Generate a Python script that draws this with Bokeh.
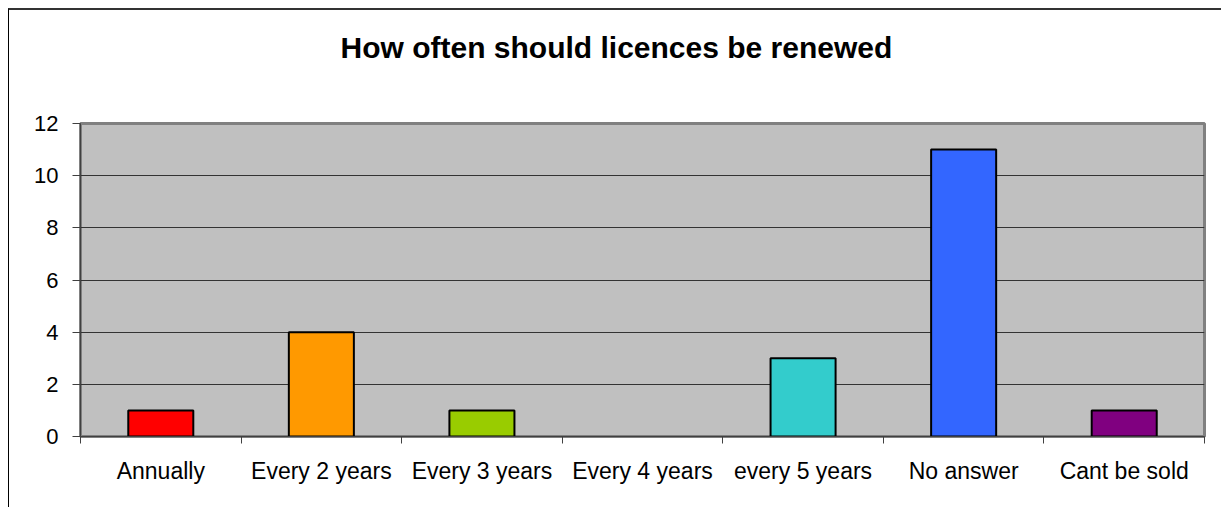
from bokeh.plotting import figure
from bokeh.models import Range1d, FixedTicker, ColumnDataSource, Title
from bokeh.embed import file_html
from bokeh.resources import INLINE

title_text = "How often should licences be renewed"
categories = ["Annually", "Every 2 years", "Every 3 years", "Every 4 years",
              "every 5 years", "No answer", "Cant be sold"]
counts = [1, 4, 1, 0, 3, 11, 1]
bar_colors = ["#FF0000", "#FF9900", "#99CC00", "#C0C0C0", "#33CCCC", "#3366FF", "#800080"]
y_ticks = [0, 2, 4, 6, 8, 10, 12]

n = len(categories)
xs = [i + 0.5 for i in range(n)]

p = figure(width=1213, height=499, output_backend="svg", toolbar_location=None,
           x_range=Range1d(0, n), y_range=Range1d(0, 12),
           min_border_left=71, min_border_right=18, min_border_top=113, min_border_bottom=73,
           title=title_text)
p.styles = {"margin-left": "8px", "margin-top": "8px",
            "border-top": "2px solid #333333", "border-left": "1px solid #000000"}

p.title.align = "left"
p.title.text_font = "Liberation Sans"
p.title.text_font_style = "bold"
p.title.text_font_size = "30px"
p.title.text_color = "black"
p.title.standoff = 0
p.title.offset = 260

# blank spacer between the title and the plot area
p.add_layout(Title(text=" ", text_font_size="52px", standoff=0), "above")

p.background_fill_color = "#C0C0C0"
p.border_fill_color = "white"
p.outline_line_color = "#808080"
p.outline_line_width = 3

nz = [i for i, c in enumerate(counts) if c > 0]
src = ColumnDataSource(dict(x=[xs[i] for i in nz], top=[counts[i] for i in nz],
                            color=[bar_colors[i] for i in nz]))
p.vbar(x="x", top="top", bottom=0, width=0.405, fill_color="color",
       line_color="black", line_width=2, source=src)

# axes
p.xgrid.visible = False
p.ygrid.grid_line_color = "#333333"
p.ygrid.grid_line_width = 1
p.ygrid.ticker = FixedTicker(ticks=y_ticks)

p.yaxis.ticker = FixedTicker(ticks=y_ticks)
p.yaxis.axis_line_color = "#404040"
p.yaxis.major_tick_line_color = "#404040"
p.yaxis.major_tick_out = 8
p.yaxis.major_tick_in = 0
p.yaxis.minor_tick_line_color = None
p.yaxis.major_label_text_font = "Liberation Sans"
p.yaxis.major_label_text_font_size = "22px"
p.yaxis.major_label_text_color = "black"
p.yaxis.major_label_standoff = 14

p.xaxis.ticker = FixedTicker(ticks=xs, minor_ticks=list(range(n + 1)))
p.xaxis.major_label_overrides = {x: c for x, c in zip(xs, categories)}
p.xaxis.axis_line_color = "#404040"
p.xaxis.major_tick_out = 0
p.xaxis.major_tick_in = 0
p.xaxis.minor_tick_out = 7
p.xaxis.minor_tick_in = 0
p.xaxis.minor_tick_line_color = "#404040"
p.xaxis.major_label_text_font = "Liberation Sans"
p.xaxis.major_label_text_font_size = "23px"
p.xaxis.major_label_text_color = "black"
p.xaxis.major_label_standoff = 14

open("out.html", "w").write(file_html(p, INLINE))
